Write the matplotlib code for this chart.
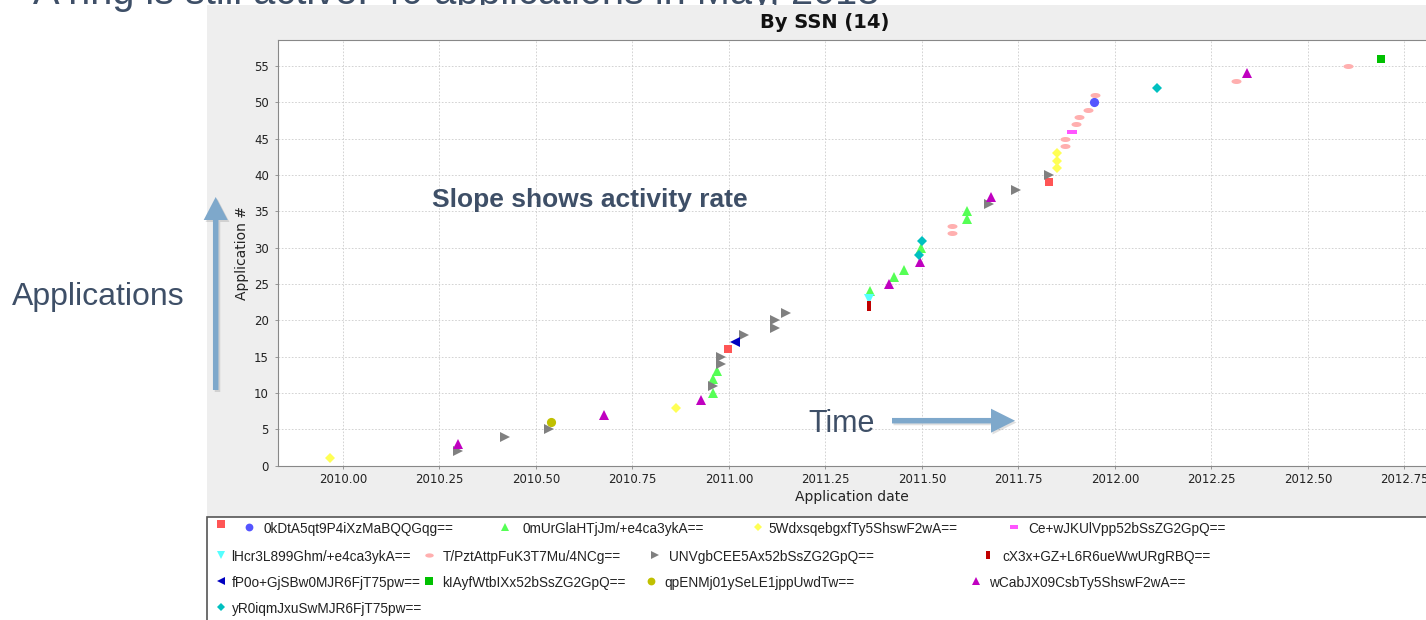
import matplotlib
matplotlib.use("Agg")
import numpy as np
import matplotlib.pyplot as plt
from matplotlib.patches import Rectangle, FancyArrow
from matplotlib.path import Path

# Series in JFreeChart legend order (name, colour, dates, application numbers)
series_names = [
    "",
    "0kDtA5qt9P4iXzMaBQQGqg==",
    "0mUrGlaHTjJm/+e4ca3ykA==",
    "5WdxsqebgxfTy5ShswF2wA==",
    "Ce+wJKUlVpp52bSsZG2GpQ==",
    "lHcr3L899Ghm/+e4ca3ykA==",
    "T/PztAttpFuK3T7Mu/4NCg==",
    "UNVgbCEE5Ax52bSsZG2GpQ==",
    "cX3x+GZ+L6R6ueWwURgRBQ==",
    "fP0o+GjSBw0MJR6FjT75pw==",
    "kIAyfWtbIXx52bSsZG2GpQ==",
    "qpENMj01ySeLE1jppUwdTw==",
    "wCabJX09CsbTy5ShswF2wA==",
    "yR0iqmJxuSwMJR6FjT75pw==",
]
series_colors = [
    "#FF5555", "#5555FF", "#55FF55", "#FFFF55", "#FF55FF", "#55FFFF", "#FFAFAF",
    "#808080", "#C00000", "#0000C0", "#00C000", "#C0C000", "#C000C0", "#00C0C0",
]
app_dates = [
    [2010.998, 2011.830],
    [2011.945],
    [2010.960, 2010.960, 2010.968, 2011.365, 2011.428, 2011.453, 2011.498, 2011.618, 2011.618],
    [2009.968, 2010.864, 2011.850, 2011.850, 2011.850],
    [2011.888],
    [2011.364],
    [2011.578, 2011.578, 2011.870, 2011.870, 2011.900, 2011.907, 2011.930, 2011.948,
     2012.315, 2012.605],
    [2010.298, 2010.420, 2010.535, 2010.960, 2010.980, 2010.980, 2011.040, 2011.120,
     2011.120, 2011.148, 2011.675, 2011.743, 2011.830],
    [2011.364],
    [2011.015],
    [2012.690],
    [2010.540],
    [2010.298, 2010.676, 2010.927, 2011.416, 2011.494, 2011.680, 2012.343],
    [2011.493, 2011.500, 2012.110],
]
app_numbers = [
    [16, 39],
    [50],
    [10, 12, 13, 24, 26, 27, 30, 34, 35],
    [1, 8, 41, 42, 43],
    [46],
    [23],
    [32, 33, 44, 45, 47, 48, 49, 51, 53, 55],
    [2, 4, 5, 11, 14, 15, 18, 19, 20, 21, 36, 38, 40],
    [22],
    [17],
    [56],
    [6],
    [3, 7, 9, 25, 28, 37, 54],
    [29, 31, 52],
]
x_ticks = [2010.00, 2010.25, 2010.50, 2010.75, 2011.00, 2011.25, 2011.50,
           2011.75, 2012.00, 2012.25, 2012.50, 2012.75]
y_ticks = [0, 5, 10, 15, 20, 25, 30, 35, 40, 45, 50, 55]

# JFreeChart default shape sequence
t = np.linspace(0, 2 * np.pi, 40)
ellipse = Path(np.column_stack([np.cos(t), 0.5 * np.sin(t)]))
hrect = Path([(-1, -0.5), (1, -0.5), (1, 0.5), (-1, 0.5), (-1, -0.5)])
vrect = Path([(-0.5, -1), (0.5, -1), (0.5, 1), (-0.5, 1), (-0.5, -1)])
shapes = [("s", 6.3), ("o", 6.6), ("^", 6.6), ("D", 4.6), (hrect, 6.5), ("v", 6.6),
          (ellipse, 7.2), (">", 6.6), (vrect, 6.5), ("<", 6.6),
          ("s", 6.3), ("o", 6.6), ("^", 6.6), ("D", 4.6)]

W, H = 1426, 620
slide_blue = "#3E4F67"
arrow_blue = "#7EA8CB"

fig = plt.figure(figsize=(W / 100, H / 100), dpi=100)
fig.patch.set_facecolor("white")

# background layer in pixel coordinates
bg = fig.add_axes([0, 0, 1, 1], zorder=0)
bg.set_xlim(0, W)
bg.set_ylim(H, 0)
bg.axis("off")
bg.text(33, 4, "A ring is still active: 40 applications in May, 2013", fontsize=28.6,
        family="Liberation Sans", color=slide_blue, va="baseline", zorder=1)
bg.add_patch(Rectangle((207, 5), W - 207, 512, facecolor="#EEEEEE", edgecolor="none", zorder=2))
bg.add_patch(Rectangle((207, 517), W, 120, facecolor="white", edgecolor="#555555",
                       linewidth=1.2, zorder=2))
bg.text(825, 22, "By SSN (14)", fontsize=14, fontweight="bold", color="#111111",
        ha="center", va="center", zorder=3)
bg.text(11.7, 305, "Applications", fontsize=23, family="Liberation Sans",
        color=slide_blue, va="baseline", zorder=3)
bg.add_patch(FancyArrow(217.5, 392, 0, -193, width=5.5, head_width=24, head_length=23,
                        length_includes_head=True, color="black", alpha=0.12,
                        linewidth=0, zorder=3))
bg.add_patch(FancyArrow(215.7, 390, 0, -193, width=5.5, head_width=24, head_length=23,
                        length_includes_head=True, color=arrow_blue, linewidth=0, zorder=4))

# main scatter plot
ax = fig.add_axes([278 / W, 1 - 465.7 / H, 1 - 278 / W, (465.7 - 40) / H], zorder=1)
ax.set_facecolor("white")
for i, name in enumerate(series_names):
    mk, ms = shapes[i]
    ax.plot(app_dates[i], app_numbers[i], linestyle="none", marker=mk, markersize=ms,
            color=series_colors[i], markeredgewidth=0, clip_on=False, zorder=3)

ax.set_xlim(2009.832, 2012.806)
ax.set_ylim(0, 58.6)
ax.set_xticks(x_ticks)
ax.set_xticklabels([f"{v:.2f}" for v in x_ticks])
ax.set_yticks(y_ticks)
ax.grid(True, color="#CCCCCC", linestyle=(0, (2, 2)), linewidth=0.6)
ax.set_axisbelow(True)
for side in ["left", "bottom", "top"]:
    ax.spines[side].set_color("#888888")
    ax.spines[side].set_linewidth(0.8)
ax.spines["right"].set_visible(False)
ax.tick_params(direction="out", length=2.5, width=0.6, color="#888888",
               labelsize=8.5, labelcolor="#222222")
ax.tick_params(axis="x", pad=2.5)
ax.tick_params(axis="y", pad=4)
ax.set_xlabel("Application date", fontsize=10, color="#222222", labelpad=3)
ax.set_ylabel("Application #", fontsize=10, color="#222222", labelpad=4)

# overlay layer: slide annotations and the legend
ov = fig.add_axes([0, 0, 1, 1], zorder=2)
ov.set_xlim(0, W)
ov.set_ylim(H, 0)
ov.axis("off")
ov.text(432, 207, "Slope shows activity rate", fontsize=19, fontweight="bold",
        family="Liberation Sans", color=slide_blue, va="baseline")
ov.text(808, 432.5, "Time", fontsize=22, family="Liberation Sans", color=slide_blue,
        va="baseline")
ov.add_patch(FancyArrow(893.5, 422.5, 123, 0, width=5.5, head_width=24, head_length=24,
                        length_includes_head=True, color="black", alpha=0.12, linewidth=0))
ov.add_patch(FancyArrow(892, 420.7, 123, 0, width=5.5, head_width=24, head_length=24,
                        length_includes_head=True, color=arrow_blue, linewidth=0))

# legend slots (marker x, text x, row y), flow layout as in the reference
legend_slots = [
    (220.6, 232, 524), (249.4, 263.3, 527), (504.5, 522.3, 527), (757.5, 768.6, 527),
    (1014.3, 1028.2, 527),
    (220.6, 231.6, 555), (429.3, 443.2, 555), (654.7, 668.5, 555), (987.5, 1002.7, 555),
    (220.6, 231.6, 581), (428.5, 442.4, 581), (650.7, 664.6, 581), (975.6, 989.5, 581),
    (220.6, 231.6, 607),
]
for i, name in enumerate(series_names):
    mk, ms = shapes[i]
    mx, tx, ry = legend_slots[i]
    ov.plot([mx], [ry], linestyle="none", marker=mk, markersize=ms * 0.85,
            color=series_colors[i], markeredgewidth=0)
    if name:
        ov.text(tx, ry, name, fontsize=9.8, family="Liberation Sans", color="#222222",
                va="center_baseline", ha="left")

fig.savefig("out.png", dpi=100)
